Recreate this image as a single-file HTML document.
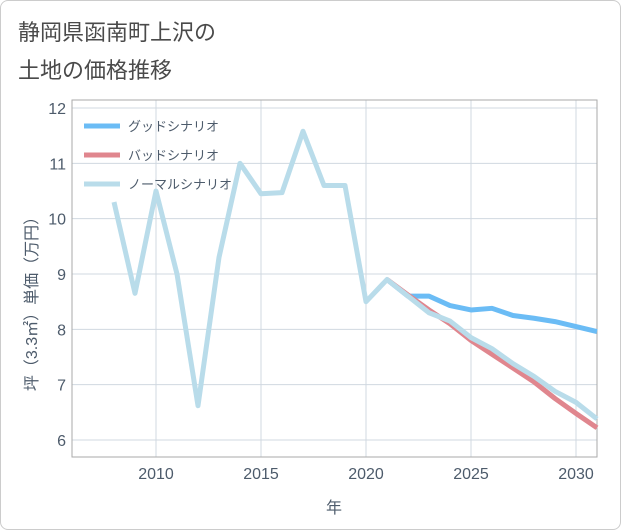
<!DOCTYPE html>
<html><head><meta charset="utf-8"><style>
body{margin:0;background:#fff;font-family:"Liberation Sans","Noto Sans CJK JP",sans-serif;}
#card{position:absolute;left:0;top:0;width:619px;height:528px;border:1px solid #ccc;border-radius:8px;background:#fff;}
</style></head><body>
<div id="card">
<svg id="chart" width="621" height="530" style="position:absolute;left:-1px;top:-1px">
<text x="18" y="40" font-size="22" fill="#4a4a4a">静岡県函南町上沢の</text>
<text x="18" y="78" font-size="22" fill="#4a4a4a">土地の価格推移</text>
<g id="plot"></g>
</svg></div>
<script>
const years=[2008,2009,2010,2011,2012,2013,2014,2015,2016,2017,2018,2019,2020,2021,2022,2023,2024,2025,2026,2027,2028,2029,2030,2031];
const normalVals=[10.3,8.65,10.5,9.0,6.62,9.3,11.0,10.45,10.47,11.58,10.6,10.6,8.5,8.9,8.6,8.3,8.15,7.85,7.65,7.38,7.15,6.88,6.68,6.38];
const futureYears=[2021,2022,2023,2024,2025,2026,2027,2028,2029,2030,2031];
const goodVals=[8.9,8.6,8.6,8.43,8.35,8.38,8.25,8.2,8.14,8.05,7.96];
const badVals=[8.9,8.62,8.35,8.1,7.8,7.55,7.3,7.05,6.75,6.48,6.22];
const xTicks=[2010,2015,2020,2025,2030];
const yTicks=[6,7,8,9,10,11,12];
const ns="http://www.w3.org/2000/svg";
const L=72,R=597,T=100,B=457;
const TXT='#4d5b6b';
const xs=v=>156+(v-2010)*21;
const ys=v=>440-(v-6)*55.33;
const g=document.getElementById('plot');
function el(t,a,p){const e=document.createElementNS(ns,t);for(const k in a)e.setAttribute(k,a[k]);(p||g).appendChild(e);return e;}
xTicks.forEach(v=>{const l=el('line',{x1:xs(v),x2:xs(v),y1:T,y2:B,stroke:'#d0d8e0'});


const t=el('text',{x:xs(v),y:B+22,'font-size':16,fill:TXT,'text-anchor':'middle'});t.textContent=v;

});
yTicks.forEach(v=>{const l=el('line',{x1:L,x2:R,y1:ys(v),y2:ys(v),stroke:'#d0d8e0'});


const t=el('text',{x:L-6,y:ys(v)+6,'font-size':16,fill:TXT,'text-anchor':'end'});t.textContent=v;

});
const fr=el('rect',{x:L,y:T,width:R-L,height:B-T,fill:'none',stroke:'#aaa'});


[['グッドシナリオ','#6bbcf5'],['バッドシナリオ','#e0868e'],['ノーマルシナリオ','#b9dcea']].forEach((d,i)=>{
const y=126+i*29;
const l=el('line',{x1:84,x2:120,y1:y,y2:y,stroke:d[1],'stroke-width':5});


const t=el('text',{x:128,y:y+5,'font-size':13,fill:TXT});t.textContent=d[0];

});
function line(xa,ya,c,name){const p=el('polyline',{points:xa.map((x,i)=>xs(x)+','+ys(ya[i])).join(' '),fill:'none',stroke:c,'stroke-width':5,'stroke-linejoin':'round'});

}
line(futureYears,goodVals,'#6bbcf5','good-scenario-line');
line(futureYears,badVals,'#e0868e','bad-scenario-line');
line(years,normalVals,'#b9dcea','normal-scenario-line');
const xt=el('text',{x:334,y:513,'font-size':16,fill:TXT,'text-anchor':'middle'});xt.textContent='年';


const yt=el('text',{x:0,y:0,'font-size':16,fill:TXT,'text-anchor':'middle',transform:'translate(37,300) rotate(-90)'});yt.textContent='坪（3.3㎡）単価（万円）';


</script>
</body></html>
